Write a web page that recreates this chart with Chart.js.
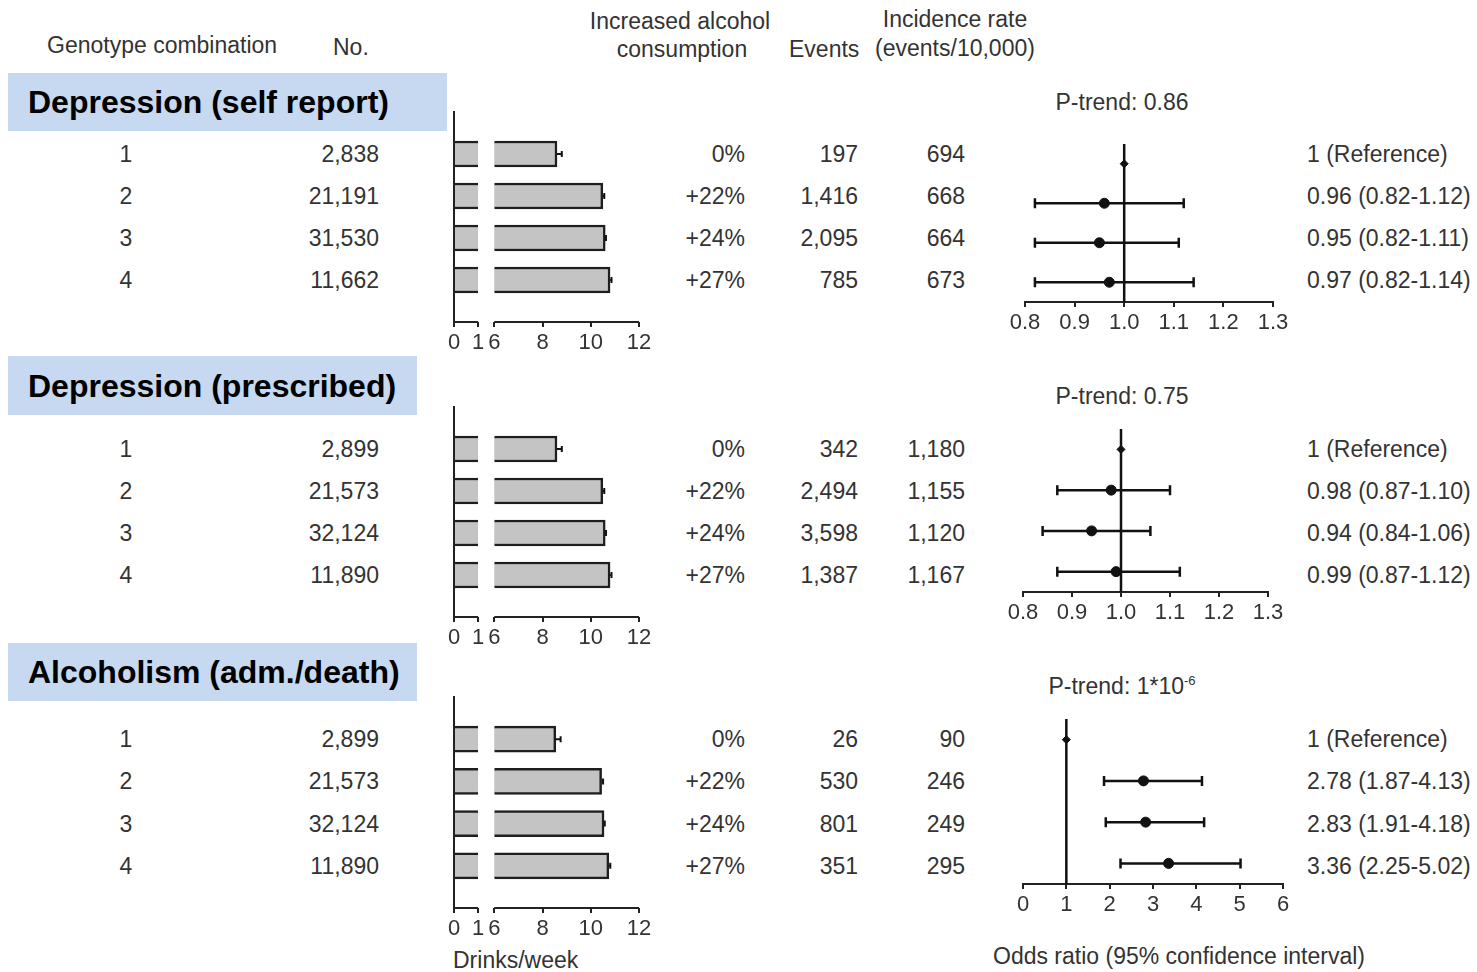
<!DOCTYPE html>
<html>
<head>
<meta charset="utf-8">
<script src="https://cdn.jsdelivr.net/npm/chart.js@4"></script>
<style>
  body { margin: 0; background: #fff; width: 1477px; height: 972px; position: relative; overflow: hidden;
         font-family: "Liberation Sans", Arial, sans-serif; color: #333; }
  .t { position: absolute; white-space: nowrap; line-height: 1; font-size: 23px; }
  .box { position: absolute; background: #c6d9f1; }
  .box span { position: absolute; left: 20px; top: 50%; transform: translateY(-50%);
              font-weight: bold; font-size: 32px; color: #000; white-space: nowrap; line-height: 1; }
  canvas { position: absolute; }
</style>
</head>
<body>
<script>
// genotype combinations / shared columns
const genotypes = ['1', '2', '3', '4'];
const alcoholIncrease = ['0%', '+22%', '+24%', '+27%'];
const drinkTicks = [0, 1, 6, 8, 10, 12];

// depression, self report
const selfN = [2838, 21191, 31530, 11662];
const selfEvents = [197, 1416, 2095, 785];
const selfRate = [694, 668, 664, 673];
const selfDrinks = [8.6, 10.5, 10.6, 10.8];
const selfDrinksErr = [0.2, 0.06, 0.03, 0.06];
const selfOR = [1, 0.96, 0.95, 0.97];
const selfLo = [1, 0.82, 0.82, 0.82];
const selfHi = [1, 1.12, 1.11, 1.14];

// depression, prescribed
const rxN = [2899, 21573, 32124, 11890];
const rxEvents = [342, 2494, 3598, 1387];
const rxRate = [1180, 1155, 1120, 1167];
const rxDrinks = [8.6, 10.5, 10.6, 10.8];
const rxDrinksErr = [0.2, 0.06, 0.03, 0.06];
const rxOR = [1, 0.98, 0.94, 0.99];
const rxLo = [1, 0.87, 0.84, 0.87];
const rxHi = [1, 1.10, 1.06, 1.12];

// alcoholism, admission / death
const alcN = [2899, 21573, 32124, 11890];
const alcEvents = [26, 530, 801, 351];
const alcRate = [90, 246, 249, 295];
const alcDrinks = [8.55, 10.45, 10.55, 10.75];
const alcDrinksErr = [0.2, 0.06, 0.03, 0.06];
const alcOR = [1, 2.78, 2.83, 3.36];
const alcLo = [1, 1.87, 1.91, 2.25];
const alcHi = [1, 4.13, 4.18, 5.02];

// broken drinks axis: 0-1 then 6-12
const GAP = 0.67;
const tr = v => v <= 1 ? v : v - 5 + GAP;

Chart.defaults.font.family = '"Liberation Sans", Arial, sans-serif';
Chart.defaults.font.size = 22;
Chart.defaults.color = '#333';

const whiskers = {
  id: 'whiskers',
  beforeDatasetsDraw(chart, args, opts) {
    if (!opts.lo) return;
    const { ctx, scales: { x, y } } = chart;
    ctx.save();
    ctx.strokeStyle = opts.color || '#111';
    ctx.lineWidth = opts.width || 2;
    opts.lo.forEach((lo, i) => {
      const hi = opts.hi[i];
      if (hi - lo <= 0) return;
      const py = y.getPixelForValue(i + 1);
      const x1 = x.getPixelForValue(lo), x2 = x.getPixelForValue(hi);
      const c = opts.cap;
      ctx.beginPath();
      ctx.moveTo(x1, py); ctx.lineTo(x2, py);
      if (opts.bothCaps) { ctx.moveTo(x1, py - c); ctx.lineTo(x1, py + c); }
      ctx.moveTo(x2, py - c); ctx.lineTo(x2, py + c);
      ctx.stroke();
    });
    ctx.restore();
  }
};

const brokenAxis = {
  id: 'brokenAxis',
  afterDraw(chart, args, opts) {
    if (!opts.segments) return;
    const { ctx, chartArea, scales: { x } } = chart;
    ctx.save();
    ctx.strokeStyle = '#222';
    ctx.lineWidth = 2;
    opts.segments.forEach(([a, b]) => {
      ctx.beginPath();
      ctx.moveTo(x.getPixelForValue(a), chartArea.bottom);
      ctx.lineTo(x.getPixelForValue(b), chartArea.bottom);
      ctx.stroke();
    });
    ctx.restore();
  }
};
Chart.register(whiskers, brokenAxis);

function makeCanvas(left, top, w, h) {
  const cv = document.createElement('canvas');
  cv.width = w; cv.height = h;
  cv.style.left = left + 'px'; cv.style.top = top + 'px';
  document.body.appendChild(cv);
  return cv;
}

function addText(html, x, y, align) {
  const d = document.createElement('div');
  d.className = 't';
  d.innerHTML = html;
  d.style.left = x + 'px';
  d.style.top = y + 'px';
  const dx = align === 'center' ? -50 : align === 'right' ? -100 : 0;
  d.style.transform = `translate(${dx}%, -50%)`;
  document.body.appendChild(d);
}

const panels = [
  { title: 'Depression (self report)', box: [8, 73, 439, 58],
    n: selfN, events: selfEvents, rate: selfRate, drinks: selfDrinks, err: selfDrinksErr,
    or: selfOR, lo: selfLo, hi: selfHi, ptrend: 'P-trend: 0.86', pY: 102,
    bar: { top: 112, bottom: 322 },
    forest: { left: 1025, right: 1273, top: 144, bottom: 302, min: 0.8, max: 1.3, step: 0.1, dec: 1 } },
  { title: 'Depression (prescribed)', box: [8, 356, 409, 59],
    n: rxN, events: rxEvents, rate: rxRate, drinks: rxDrinks, err: rxDrinksErr,
    or: rxOR, lo: rxLo, hi: rxHi, ptrend: 'P-trend: 0.75', pY: 396,
    bar: { top: 407, bottom: 617 },
    forest: { left: 1023, right: 1268, top: 429, bottom: 592, min: 0.8, max: 1.3, step: 0.1, dec: 1 } },
  { title: 'Alcoholism (adm./death)', box: [8, 643, 409, 58],
    n: alcN, events: alcEvents, rate: alcRate, drinks: alcDrinks, err: alcDrinksErr,
    or: alcOR, lo: alcLo, hi: alcHi, ptrend: 'P-trend: 1*10<sup style="font-size:13px;vertical-align:9px">-6</sup>', pY: 686,
    bar: { top: 697, bottom: 908 },
    forest: { left: 1023, right: 1283, top: 719, bottom: 884, min: 0, max: 6, step: 1, dec: 0 } }
];

const barLeft = 454, barRight = 639;
const barFill = '#c4c4c4', barLine = '#1e1e1e';

panels.forEach(p => {
  // title box
  const b = document.createElement('div');
  b.className = 'box';
  b.style.left = p.box[0] + 'px'; b.style.top = p.box[1] + 'px';
  b.style.width = p.box[2] + 'px'; b.style.height = p.box[3] + 'px';
  b.innerHTML = `<span>${p.title}</span>`;
  document.body.appendChild(b);

  // drinks/week bar chart
  const padL = 20, padT = 10, axisH = 35;
  const bTop = p.bar.top - padT;
  const cv = makeCanvas(barLeft - padL, bTop, barRight - barLeft + 2 * padL, padT + (p.bar.bottom - p.bar.top) + axisH);
  const barChart = new Chart(cv, {
    type: 'bar',
    data: {
      datasets: [
        { data: genotypes.map((g, i) => ({ y: i + 1, x: [tr(0), tr(1)] })),
          backgroundColor: barFill, borderColor: barLine, borderSkipped: false,
          borderWidth: { top: 2.5, bottom: 2.5, left: 0, right: 0 }, barThickness: 26, grouped: false },
        { data: genotypes.map((g, i) => ({ y: i + 1, x: [tr(6), tr(p.drinks[i])] })),
          backgroundColor: barFill, borderColor: barLine, borderSkipped: false,
          borderWidth: { top: 2.5, bottom: 2.5, left: 0, right: 2.5 }, barThickness: 26, grouped: false }
      ]
    },
    options: {
      indexAxis: 'y', responsive: false, animation: false, devicePixelRatio: 1,
      layout: { padding: { left: padL, right: padL, top: padT, bottom: 0 } },
      plugins: {
        legend: { display: false }, tooltip: { enabled: false },
        whiskers: { lo: p.drinks.map(tr), hi: p.drinks.map((v, i) => tr(v + p.err[i])), cap: 3, width: 2 },
        brokenAxis: { segments: [[tr(0), tr(1)], [tr(6), tr(12)]] }
      },
      scales: {
        x: { type: 'linear', min: 0, max: tr(12),
             afterBuildTicks: s => { s.ticks = drinkTicks.map(v => ({ value: tr(v) })); },
             afterFit: s => { s.height = axisH; },
             ticks: { callback: (v, i) => drinkTicks[i], autoSkip: false, maxRotation: 0, padding: 3 },
             grid: { drawOnChartArea: false, drawTicks: true, tickLength: 5, color: '#222', lineWidth: 2 },
             border: { display: false } },
        y: { type: 'linear', min: 0, max: 5, reverse: true, offset: false,
             afterFit: s => { s.width = 0; },
             ticks: { display: false }, grid: { display: false, offset: false },
             border: { display: true, color: '#222', width: 2 } }
      }
    }
  });

  // table rows aligned on the bar rows
  genotypes.forEach((g, i) => {
    const y = bTop + barChart.scales.y.getPixelForValue(i + 1);
    addText(g, 126, y, 'center');
    addText(p.n[i].toLocaleString('en-US'), 379, y, 'right');
    addText(alcoholIncrease[i], 745, y, 'right');
    addText(p.events[i].toLocaleString('en-US'), 858, y, 'right');
    addText(p.rate[i].toLocaleString('en-US'), 965, y, 'right');
    const orTxt = i === 0 ? '1 (Reference)'
      : `${p.or[i].toFixed(2)} (${p.lo[i].toFixed(2)}-${p.hi[i].toFixed(2)})`;
    addText(orTxt, 1307, y, 'left');
  });

  // odds ratio forest plot
  const f = p.forest, fPad = 30;
  const fv = makeCanvas(f.left - fPad, f.top - padT, f.right - f.left + 2 * fPad, padT + (f.bottom - f.top) + axisH);
  new Chart(fv, {
    type: 'scatter',
    data: {
      datasets: [
        { data: [{ x: 1, y: 0.5 }, { x: 1, y: 4.5 }], showLine: true, borderColor: '#111', borderWidth: 2.5, pointRadius: 0 },
        { data: p.or.map((v, i) => ({ x: v, y: i + 1 })),
          pointStyle: ['rectRot', 'circle', 'circle', 'circle'], pointRadius: [4, 5, 5, 5],
          backgroundColor: '#111', borderColor: '#111' }
      ]
    },
    options: {
      responsive: false, animation: false, devicePixelRatio: 1,
      layout: { padding: { left: fPad, right: fPad, top: padT, bottom: 0 } },
      plugins: {
        legend: { display: false }, tooltip: { enabled: false },
        whiskers: { lo: p.lo, hi: p.hi, cap: 5, width: 2.5, bothCaps: true }
      },
      scales: {
        x: { type: 'linear', min: f.min, max: f.max,
             afterFit: s => { s.height = axisH; },
             ticks: { stepSize: f.step, callback: v => Number(v).toFixed(f.dec), autoSkip: false, maxRotation: 0, padding: 3 },
             grid: { drawOnChartArea: false, drawTicks: true, tickLength: 5, color: '#222', lineWidth: 2 },
             border: { display: true, color: '#222', width: 2 } },
        y: { display: false, min: 0.5, max: 4.5, reverse: true }
      }
    }
  });

  addText(p.ptrend, 1122, p.pY, 'center');
});

// column headers and axis titles
addText('Genotype combination', 47, 45, 'left');
addText('No.', 333, 47, 'left');
addText('Increased alcohol', 680, 21, 'center');
addText('consumption', 682, 49, 'center');
addText('Events', 789, 49, 'left');
addText('Incidence rate', 955, 19, 'center');
addText('(events/10,000)', 955, 48, 'center');
addText('Drinks/week', 453, 960, 'left');
addText('Odds ratio (95% confidence interval)', 993, 956, 'left');
</script>
</body>
</html>
